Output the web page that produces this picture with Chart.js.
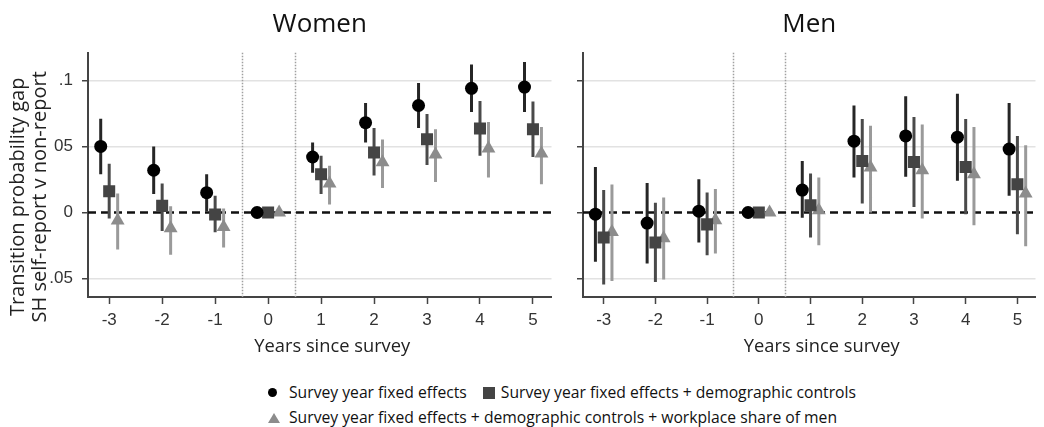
<!DOCTYPE html>
<html lang="en">
<head>
  <meta charset="UTF-8">
  <meta name="viewport" content="width=device-width, initial-scale=1.0">
  <title>Transition probability gap: Women and Men</title>
  <style>
    body {
      margin: 0;
      background: #fff;
      font-family: 'Open Sans', sans-serif;
    }
    #wrap { position: relative; width: 1044px; height: 427px; overflow: hidden; }
    .panel { position: absolute; top: 0; height: 365px; }
    #womenBox { left: 0; width: 560px; }
    #menBox { left: 560px; width: 484px; }
    #legend {
      position: absolute;
      left: 268px;
      top: 380px;
      font-size: 15.7px;
      line-height: 25px;
      color: #111;
      white-space: nowrap;
    }
    #legend .mk { display: inline-block; vertical-align: middle; position: relative; top: -1px; }
    #legend .circ { width: 9px; height: 9px; border-radius: 50%; background: #000; margin-right: 12px; }
    #legend .sq { width: 12px; height: 12px; background: #444; margin-left: 12px; margin-right: 6px; }
    #legend .tri { width: 0; height: 0; border-left: 6px solid transparent; border-right: 6px solid transparent; border-bottom: 10px solid #8c8c8c; margin-right: 9px; }
  </style>
</head>
<body>

<div id="wrap">
  <div class="panel" id="womenBox"><canvas id="womenChart"></canvas></div>
  <div class="panel" id="menBox"><canvas id="menChart"></canvas></div>
  <div id="legend">
    <div><span class="mk circ"></span>Survey year fixed effects <span class="mk sq"></span>Survey year fixed effects + demographic controls</div>
    <div><span class="mk tri"></span>Survey year fixed effects + demographic controls + workplace share of men</div>
  </div>
</div>

<script src="https://cdn.jsdelivr.net/npm/chart.js"></script>
<script>
  // years since survey
  const years = [-3, -2, -1, 0, 1, 2, 3, 4, 5];
  const yTicks = [-0.05, 0, 0.05, 0.1];
  const yTickLabels = ['.05', '0', '05', '.1'];
  const xTitle = 'Years since survey';
  const yTitle = ['Transition probability gap', 'SH self-report v non-report'];

  // Women: survey year fixed effects
  const womenFE   = [0.050, 0.032, 0.015, 0, 0.042, 0.068, 0.081, 0.094, 0.095];
  const womenFELo = [0.029, 0.014, 0.001, 0, 0.030, 0.053, 0.064, 0.076, 0.076];
  const womenFEHi = [0.071, 0.050, 0.029, 0, 0.053, 0.083, 0.098, 0.112, 0.114];
  // Women: + demographic controls
  const womenDem   = [0.016, 0.005, -0.0015, 0, 0.029, 0.0455, 0.0555, 0.0636, 0.063];
  const womenDemLo = [-0.0045, -0.014, -0.015, 0, 0.014, 0.028, 0.036, 0.043, 0.042];
  const womenDemHi = [0.037, 0.022, 0.0126, 0, 0.043, 0.064, 0.0745, 0.0845, 0.084];
  // Women: + workplace share of men
  const womenWp   = [-0.006, -0.012, -0.011, 0, 0.022, 0.038, 0.044, 0.0485, 0.0447];
  const womenWpLo = [-0.028, -0.032, -0.0265, 0, 0.006, 0.0186, 0.023, 0.0265, 0.0214];
  const womenWpHi = [0.0144, 0.0048, 0.003, 0, 0.0353, 0.0553, 0.063, 0.0686, 0.0648];

  // Men: survey year fixed effects
  const menFE   = [-0.0013, -0.008, 0.001, 0, 0.017, 0.054, 0.058, 0.057, 0.048];
  const menFELo = [-0.0374, -0.0386, -0.0227, 0, -0.004, 0.0265, 0.027, 0.024, 0.0126];
  const menFEHi = [0.0345, 0.0224, 0.0252, 0, 0.039, 0.081, 0.088, 0.090, 0.083];
  // Men: + demographic controls
  const menDem   = [-0.019, -0.0227, -0.009, 0, 0.0055, 0.039, 0.0383, 0.0345, 0.0214];
  const menDemLo = [-0.0545, -0.0526, -0.0324, 0, -0.019, 0.0068, 0.0042, -0.0013, -0.0164];
  const menDemHi = [0.017, 0.0073, 0.0152, 0, 0.0295, 0.0707, 0.0724, 0.0707, 0.058];
  // Men: + workplace share of men
  const menWp   = [-0.0147, -0.0195, -0.0058, 0, 0.0017, 0.034, 0.032, 0.029, 0.0144];
  const menWpLo = [-0.0518, -0.0508, -0.031, 0, -0.0248, 0, -0.0045, -0.0096, -0.0255];
  const menWpHi = [0.0212, 0.0114, 0.0177, 0, 0.0265, 0.0656, 0.0667, 0.0648, 0.051];

  // horizontal dodge of the three estimates around each year
  const dodge = [-0.16, 0, 0.16];
  const zeroDodge = 1.3;

  function xAt(yr, k) {
    return yr + dodge[k] * (yr === 0 ? zeroDodge : 1);
  }

  function pointData(vals, k) {
    return years.map((yr, i) => ({ x: xAt(yr, k), y: vals[i] }));
  }

  // error bars as one broken line per series
  function barData(lo, hi, k) {
    const pts = [];
    years.forEach((yr, i) => {
      if (lo[i] === hi[i]) return;
      const x = xAt(yr, k);
      pts.push({ x: x, y: lo[i] }, { x: x, y: hi[i] }, { x: x, y: null });
    });
    return pts;
  }

  // dotted lines at -0.5 / 0.5 and dashed zero line
  const refLines = {
    id: 'refLines',
    beforeDatasetsDraw(chart) {
      const { ctx, chartArea: a, scales: { x, y } } = chart;
      ctx.save();
      ctx.strokeStyle = '#a0a0a0';
      ctx.lineWidth = 1.5;
      ctx.setLineDash([1.5, 1.5]);
      [-0.5, 0.5].forEach(v => {
        const px = Math.round(x.getPixelForValue(v)) + 0.5;
        ctx.beginPath();
        ctx.moveTo(px, a.top);
        ctx.lineTo(px, a.bottom);
        ctx.stroke();
      });
      ctx.strokeStyle = '#111';
      ctx.lineWidth = 2.5;
      ctx.setLineDash([8, 5]);
      const py = y.getPixelForValue(0);
      ctx.beginPath();
      ctx.moveTo(a.left, py);
      ctx.lineTo(a.right, py);
      ctx.stroke();
      ctx.restore();
    }
  };

  // axis titles, placed a little off the plot centre like the original
  const axisTitles = {
    id: 'axisTitles',
    afterDraw(chart, args, opts) {
      const { ctx, chartArea: a } = chart;
      ctx.save();
      ctx.fillStyle = '#222';
      ctx.textAlign = 'center';
      ctx.textBaseline = 'middle';
      ctx.font = '18.3px "Open Sans"';
      ctx.fillText(xTitle, (a.left + a.right) / 2 + 12.5, 347);
      if (opts.showY) {
        ctx.font = '20px "Open Sans"';
        yTitle.forEach((t, i) => {
          ctx.save();
          ctx.translate(18 + i * 22, (a.top + a.bottom) / 2 + 22);
          ctx.rotate(-Math.PI / 2);
          ctx.fillText(t, 0, 0);
          ctx.restore();
        });
      }
      ctx.restore();
    }
  };

  function makePanel(id, title, s, showY) {
    const ctx = document.getElementById(id).getContext('2d');
    const barColors = ['#262626', '#4a4a4a', '#9a9a9a'];
    const datasets = [];
    s.forEach((ser, k) => {
      datasets.push({
        data: barData(ser.lo, ser.hi, k),
        showLine: true,
        spanGaps: false,
        borderColor: barColors[k],
        borderWidth: 3,
        pointRadius: 0,
        order: 2
      });
    });
    const styles = [
      { pointStyle: 'circle', radius: 6.5, color: '#000' },
      { pointStyle: 'rect', radius: 8.5, color: '#444' },
      { pointStyle: 'triangle', radius: 8, color: '#8c8c8c' }
    ];
    s.forEach((ser, k) => {
      datasets.push({
        data: pointData(ser.v, k),
        pointStyle: styles[k].pointStyle,
        pointRadius: styles[k].radius,
        backgroundColor: styles[k].color,
        borderWidth: 0,
        order: 1
      });
    });

    return new Chart(ctx, {
      type: 'scatter',
      data: { datasets: datasets },
      plugins: [refLines, axisTitles],
      options: {
        responsive: true,
        maintainAspectRatio: false,
        animation: false,
        layout: { padding: 0 },
        plugins: {
          legend: { display: false },
          tooltip: { enabled: false },
          axisTitles: { showY: showY },
          title: {
            display: true,
            text: title,
            fullSize: false,
            color: '#111',
            font: { family: 'Open Sans', size: 26, weight: 'normal', lineHeight: 1.2 },
            padding: { top: 9, bottom: 12.5 }
          }
        },
        scales: {
          x: {
            type: 'linear',
            min: -3.4,
            max: 5.35,
            afterBuildTicks: sc => { sc.ticks = years.map(v => ({ value: v })); },
            afterFit: sc => { sc.height = 68; },
            ticks: {
              color: '#333',
              font: { family: 'Liberation Sans', size: 17 },
              padding: 6,
              maxRotation: 0,
              autoSkip: false
            },
            grid: { drawOnChartArea: false, tickLength: 7, tickColor: '#444', tickWidth: 1.5 },
            border: { color: '#444', width: 2 }
          },
          y: {
            min: -0.064,
            max: 0.121,
            afterBuildTicks: sc => { sc.ticks = yTicks.map(v => ({ value: v })); },
            afterFit: sc => { sc.width = showY ? 88 : 23; },
            ticks: {
              color: '#333',
              font: { family: 'Liberation Sans', size: 17 },
              padding: 9,
              callback: (v, i) => showY ? yTickLabels[i] : ''
            },
            grid: {
              color: c => (c.tick && c.tick.value === 0) ? 'rgba(0,0,0,0)' : '#e2e2e2',
              lineWidth: 1.5,
              tickLength: 6,
              tickColor: '#444',
              tickWidth: 1.5
            },
            border: { color: '#444', width: 2 }
          }
        }
      }
    });
  }

  makePanel('womenChart', 'Women', [
    { v: womenFE, lo: womenFELo, hi: womenFEHi },
    { v: womenDem, lo: womenDemLo, hi: womenDemHi },
    { v: womenWp, lo: womenWpLo, hi: womenWpHi }
  ], true);

  makePanel('menChart', 'Men', [
    { v: menFE, lo: menFELo, hi: menFEHi },
    { v: menDem, lo: menDemLo, hi: menDemHi },
    { v: menWp, lo: menWpLo, hi: menWpHi }
  ], false);
</script>

</body>
</html>
